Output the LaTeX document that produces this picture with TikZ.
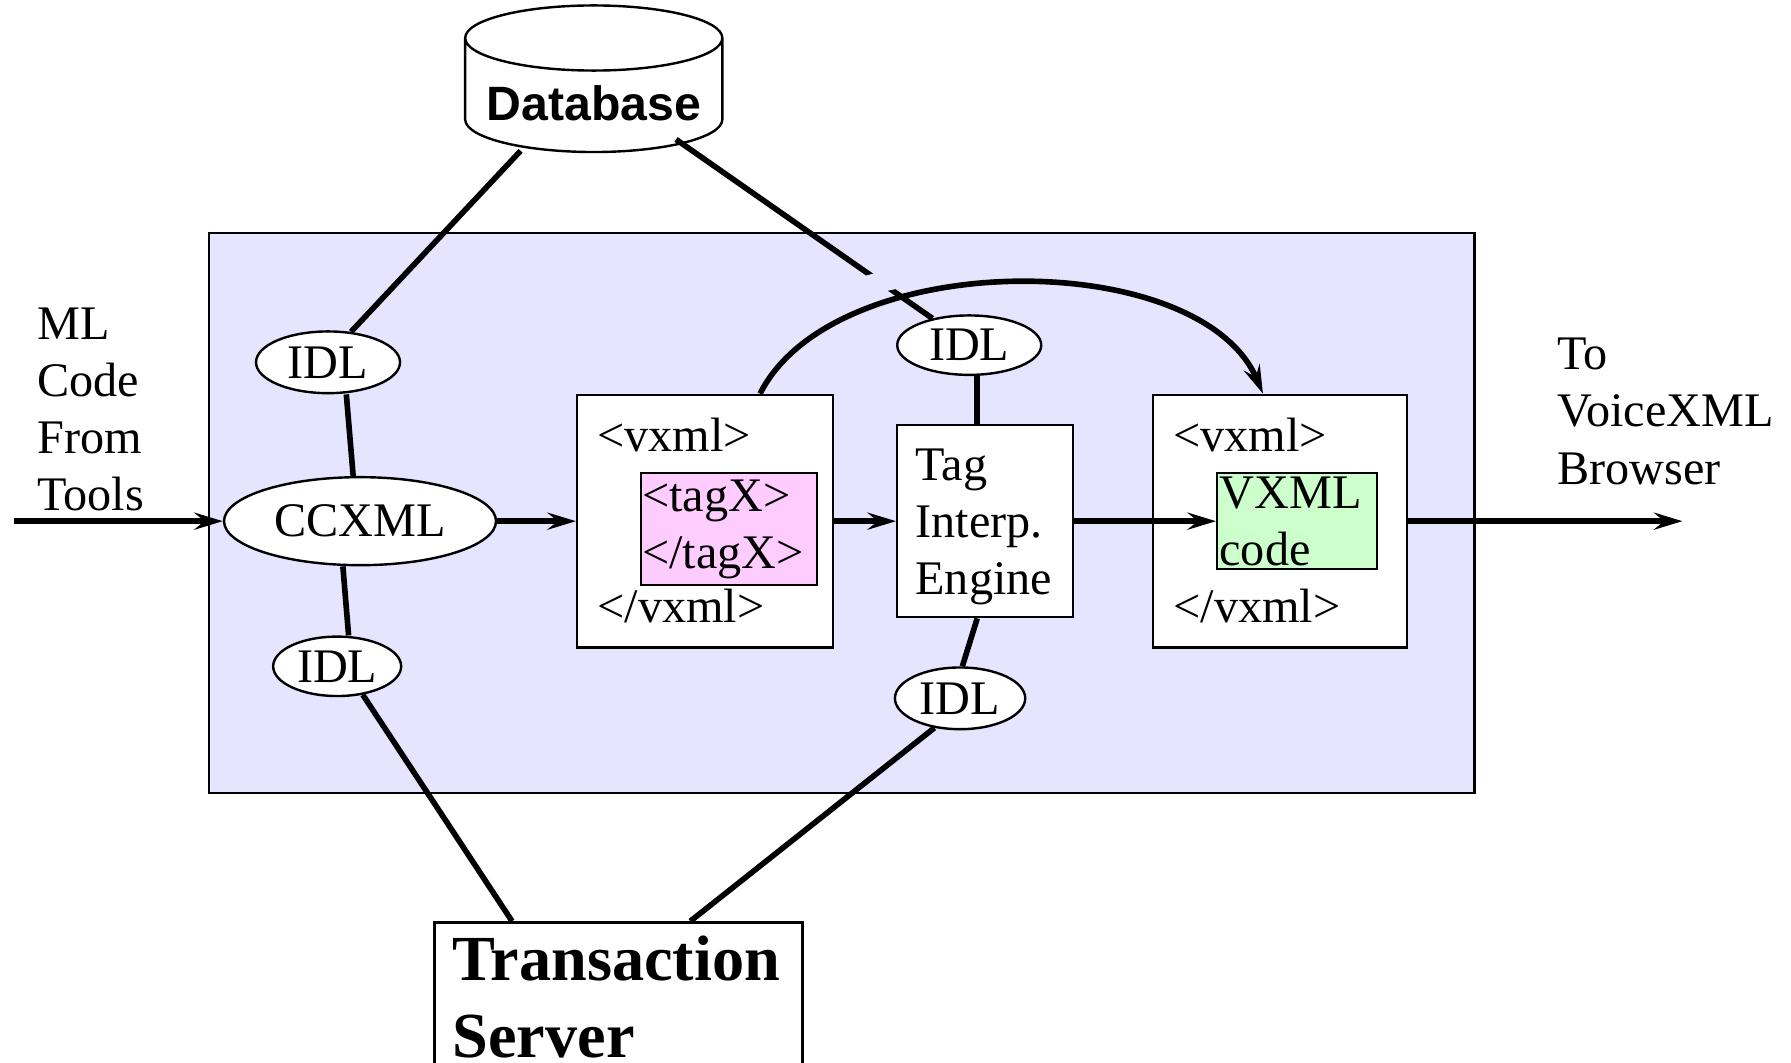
\documentclass[tikz,border=0pt]{standalone}
\usepackage{fontspec}
\setmainfont{Liberation Serif}
\newfontfamily\dbfont{Liberation Sans}
\usetikzlibrary{arrows.meta,shapes.geometric}

\definecolor{panelblue}{RGB}{229,229,255}
\definecolor{tagpink}{RGB}{255,204,255}
\definecolor{codegreen}{RGB}{204,255,204}

\tikzset{
 box/.style={draw,fill=white,line width=0.6pt,inner sep=0},
 idl/.style={draw,fill=white,ellipse,inner sep=0,line width=0.6pt},
 link/.style={line width=1.4pt},
 flow/.style={line width=1.4pt,->},
 txt/.style={anchor=west,inner sep=0,align=left}
}

\begin{document}
\begin{tikzpicture}[font=\fontsize{12}{14.2}\selectfont,
 >={Stealth[length=2.5mm,width=1.5mm,inset=0.9mm]}]
\useasboundingbox (0,0) rectangle (15.67,9.30);
\fill[panelblue,draw=black,line width=0.6pt] (1.83,7.26) rectangle (12.90,2.36);

\node[draw,fill=white,cylinder,shape border rotate=90,aspect=0.27,
 minimum width=2.25cm,minimum height=1.22cm,line width=0.6pt,
 font=\dbfont\bfseries\fontsize{12}{14}\selectfont] (db) at (5.195,8.40) {Database};

\node[idl,minimum width=2.38cm,minimum height=0.77cm] (ccxml) at (3.15,4.74) {CCXML};
\node[idl,minimum width=1.26cm,minimum height=0.54cm] (idlA) at (2.87,6.13) {IDL};
\node[idl,minimum width=1.12cm,minimum height=0.52cm] (idlB) at (2.95,3.47) {IDL};
\node[idl,minimum width=1.26cm,minimum height=0.52cm] (idlC) at (8.48,6.28) {IDL};
\node[idl,minimum width=1.14cm,minimum height=0.54cm] (idlD) at (8.40,3.19) {IDL};

\node[box,minimum width=2.24cm,minimum height=2.21cm] (vxA) at (6.17,4.74) {};
\node[txt] at (5.22,5.49) {<vxml>};
\node[txt] at (5.22,4.00) {</vxml>};
\node[box,fill=tagpink,minimum width=1.54cm,minimum height=0.98cm,
 text width=1.52cm,inner xsep=0.01cm,align=left] (tagX) at (6.38,4.67) {<tagX>\\</tagX>};

\node[box,minimum height=1.68cm,text width=1.22cm,inner xsep=0.16cm,align=left] (tag)
 at (8.62,4.74) {\rule{0pt}{3.8mm}Tag\\Interp.\\Engine};

\node[box,minimum width=2.22cm,minimum height=2.21cm] (vxB) at (11.20,4.74) {};
\node[txt] at (10.26,5.49) {<vxml>};
\node[txt] at (10.26,4.00) {</vxml>};
\node[box,fill=codegreen,minimum width=1.40cm,minimum height=0.84cm,
 text width=1.36cm,inner xsep=0.02cm,align=left] (code) at (11.35,4.74) {VXML\\code};

\node[box,anchor=north west,text width=2.90cm,inner xsep=0.16cm,inner ysep=0.12cm,
 align=left,font=\bfseries\fontsize{16}{19}\selectfont] (ts)
 at (3.79,1.24) {Transaction\\Server\par\vspace{8mm}};

\node[txt] (tools) at (0.32,5.72) {ML\\Code\\From\\Tools};
\node[txt] (browser) at (13.62,5.70) {To\\VoiceXML\\Browser};
\coordinate (in) at (0.12,4.74);
\coordinate (out) at (14.72,4.74);

% links to the servers
\draw[link] ([shift={(-0.64,-0.42)}]db.center) -- (idlA.53);
\draw[link] ([shift={(0.72,-0.32)}]db.center) -- (idlC.144);
\draw[link] ([xshift=1.6mm]idlA.south) -- ([xshift=-0.6mm]ccxml.north);
\draw[link] ([xshift=-1.5mm]ccxml.south) -- ([xshift=1mm]idlB.north);
\draw[link] (idlB.312) -- ([xshift=6.9mm]ts.north west);
\draw[link] ([xshift=0.7mm]idlC.south) -- ([xshift=-0.7mm]tag.north);
\draw[link] ([xshift=-0.7mm]tag.south) -- ([xshift=0.2mm]idlD.north);
\draw[link] (idlD.229) -- ([xshift=22.5mm]ts.north west);

% flow
\draw[link,->,preaction={draw=panelblue,line width=5pt,arrows=-,shorten <=6mm,shorten >=6mm}]
 ([xshift=4.8mm]vxA.north) .. controls +(0.65,1.29) and +(-0.55,1.29) .. ([xshift=-1.5mm]vxB.north);
\draw[flow] (in) -- (ccxml);
\draw[flow] (ccxml) -- (vxA);
\draw[flow] (vxA) -- (tag);
\draw[flow] (tag) -- (code);
\draw[flow] (vxB) -- (out);
\end{tikzpicture}
\end{document}
